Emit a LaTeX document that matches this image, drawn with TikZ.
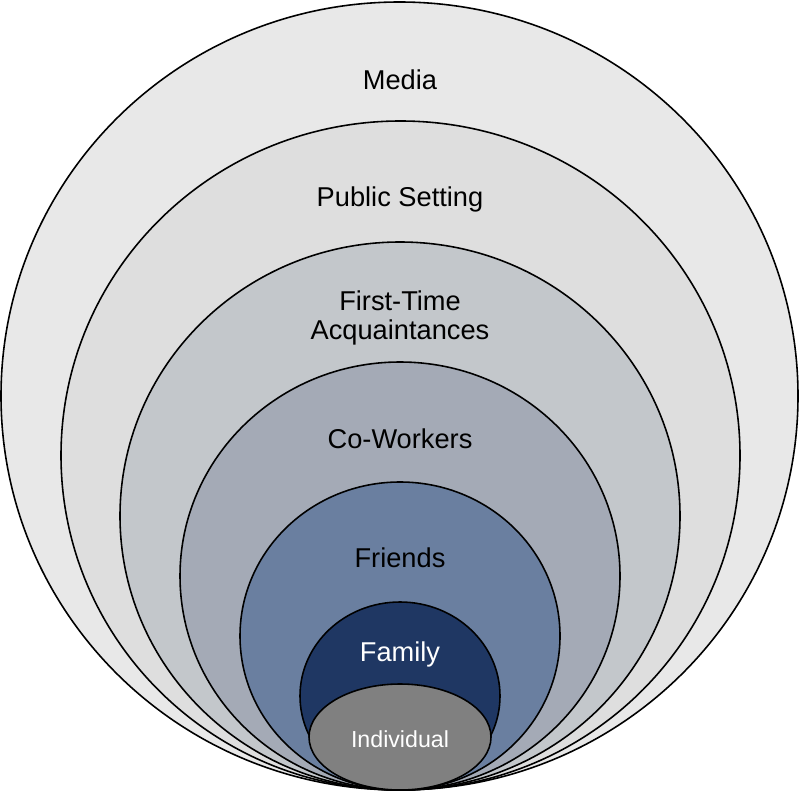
\documentclass[tikz,border=0pt]{standalone}
\usepackage{fontspec}
\setmainfont{Liberation Sans}
\usepackage{xcolor}
\definecolor{mediagray}{RGB}{232,232,232}
\definecolor{publicgray}{RGB}{222,222,222}
\definecolor{firstgray}{RGB}{195,199,203}
\definecolor{cogray}{RGB}{164,170,182}
\definecolor{friendblue}{RGB}{106,127,160}
\definecolor{familyblue}{RGB}{31,55,99}
\definecolor{selfgray}{RGB}{128,128,128}

\begin{document}
\begin{tikzpicture}[x=0.02cm,y=-0.02cm,
	lbl/.style={font=\fontsize{15.5}{16}\selectfont,align=center,inner sep=0pt}]
	\useasboundingbox (0,0) rectangle (800,793);
	% rings, outer to inner, all touching at the bottom
	\foreach \cx/\cy/\rx/\ry/\col in {399.5/396/398.5/394/mediagray,
			400.5/455.5/339.5/334.5/publicgray,
			400/516/280/274/firstgray,
			400/576/220/214/cogray,
			400/636/160/154/friendblue,
			400/696/100/94/familyblue,
			400/737/91/53/selfgray}
		\filldraw[fill=\col,draw=black,line width=0.9pt] (\cx,\cy) ellipse [x radius=\rx, y radius=\ry];
	
	\node(media) at (400,80)[lbl]{Media};
	\node(public) at (400,199)[lbl]{Public Setting};
	\node(first) at (400,318)[lbl]{First-Time\\Acquaintances};
	\node(co) at (400,439)[lbl]{Co-Workers};
	\node(friends) at (400,558)[lbl]{Friends};
	\node(family) at (400,654)[lbl,text=white]{Family};
	\node(self) at (400,739)[lbl,text=white,font=\fontsize{13.2}{14}\selectfont]{Individual};
\end{tikzpicture}
\end{document}
